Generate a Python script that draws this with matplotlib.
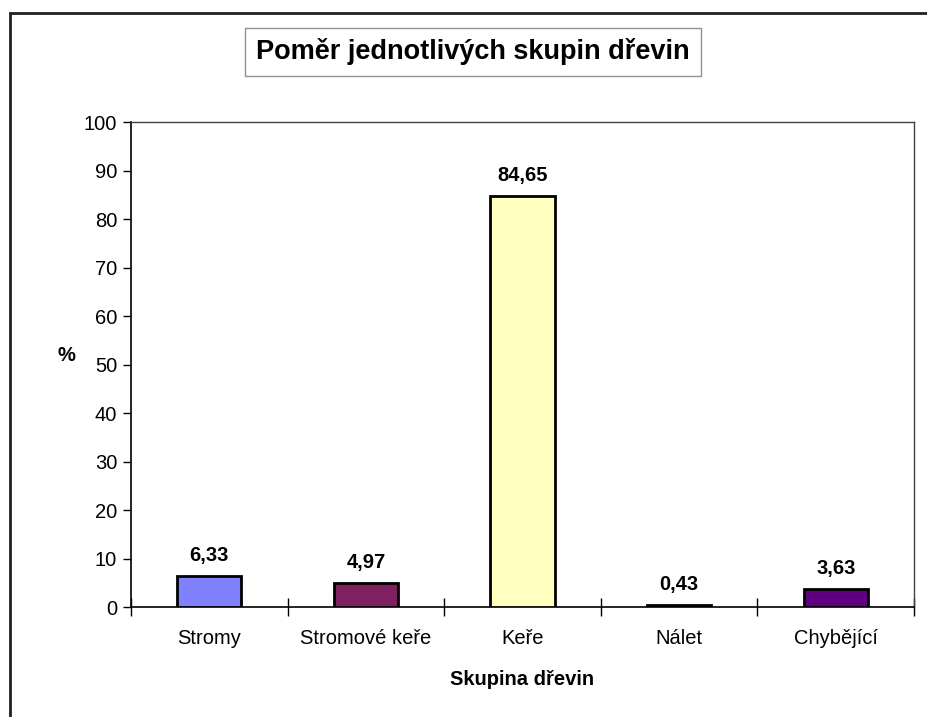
import matplotlib.pyplot as plt
from matplotlib.patches import Rectangle
from matplotlib.ticker import FixedLocator, NullFormatter

plt.rcParams['font.family'] = ['Liberation Sans', 'DejaVu Sans']

categories = ['Stromy', 'Stromové keře', 'Keře', 'Nálet', 'Chybějící']
values = [6.33, 4.97, 84.65, 0.43, 3.63]
labels = ['6,33', '4,97', '84,65', '0,43', '3,63']
colors = ['#8080FF', '#802060', '#FFFFC0', '#202020', '#600080']

fs = 14.5

fig = plt.figure(figsize=(9.28, 7.17), dpi=100)
ax = fig.add_axes([0.1412, 0.1534, 0.8438, 0.6764])

x = list(range(len(categories)))
ax.bar(x, values, width=0.41, color=colors, edgecolor='black', linewidth=2, zorder=3)

for xi, v, lab in zip(x, values, labels):
    ax.annotate(lab, (xi, v), xytext=(0, 8), textcoords='offset points',
                ha='center', va='bottom', fontsize=fs, fontweight='bold')

ax.set_xlim(-0.5, len(categories) - 0.5)
ax.set_ylim(0, 100)
ax.set_yticks(range(0, 101, 10))
ax.tick_params(axis='y', direction='out', length=6, width=1, labelsize=fs, pad=4)

# category names sit between the boundary ticks
ax.set_xticks(x)
ax.set_xticklabels(categories, fontsize=fs)
ax.tick_params(axis='x', which='major', length=0, pad=16)
ax.xaxis.set_minor_locator(FixedLocator([i - 0.5 for i in range(len(categories) + 1)]))
ax.xaxis.set_minor_formatter(NullFormatter())
ax.tick_params(axis='x', which='minor', direction='inout', length=13, width=1)

for side in ['left', 'bottom']:
    ax.spines[side].set_linewidth(1.2)
for side in ['top', 'right']:
    ax.spines[side].set_linewidth(1)
    ax.spines[side].set_color('#404040')

ax.set_xlabel('Skupina dřevin', fontsize=fs, fontweight='bold', labelpad=16)
ax.set_ylabel('%', fontsize=fs, fontweight='bold', rotation=0, labelpad=0)
ax.yaxis.set_label_coords(-0.083, 0.5)

fig.text(0.5097, 0.9275, 'Poměr jednotlivých skupin dřevin', ha='center', va='center',
         fontsize=19.5, fontweight='bold',
         bbox=dict(boxstyle='square,pad=0.4', facecolor='white', edgecolor='#909090', linewidth=1))

# chart area frame, open at right and bottom
fig.add_artist(Rectangle((10 / 928, -0.1), 1.2, 1 - 13 / 717 + 0.1, transform=fig.transFigure,
                         fill=False, edgecolor='#202020', linewidth=2))

fig.savefig('out.png', dpi=100)
